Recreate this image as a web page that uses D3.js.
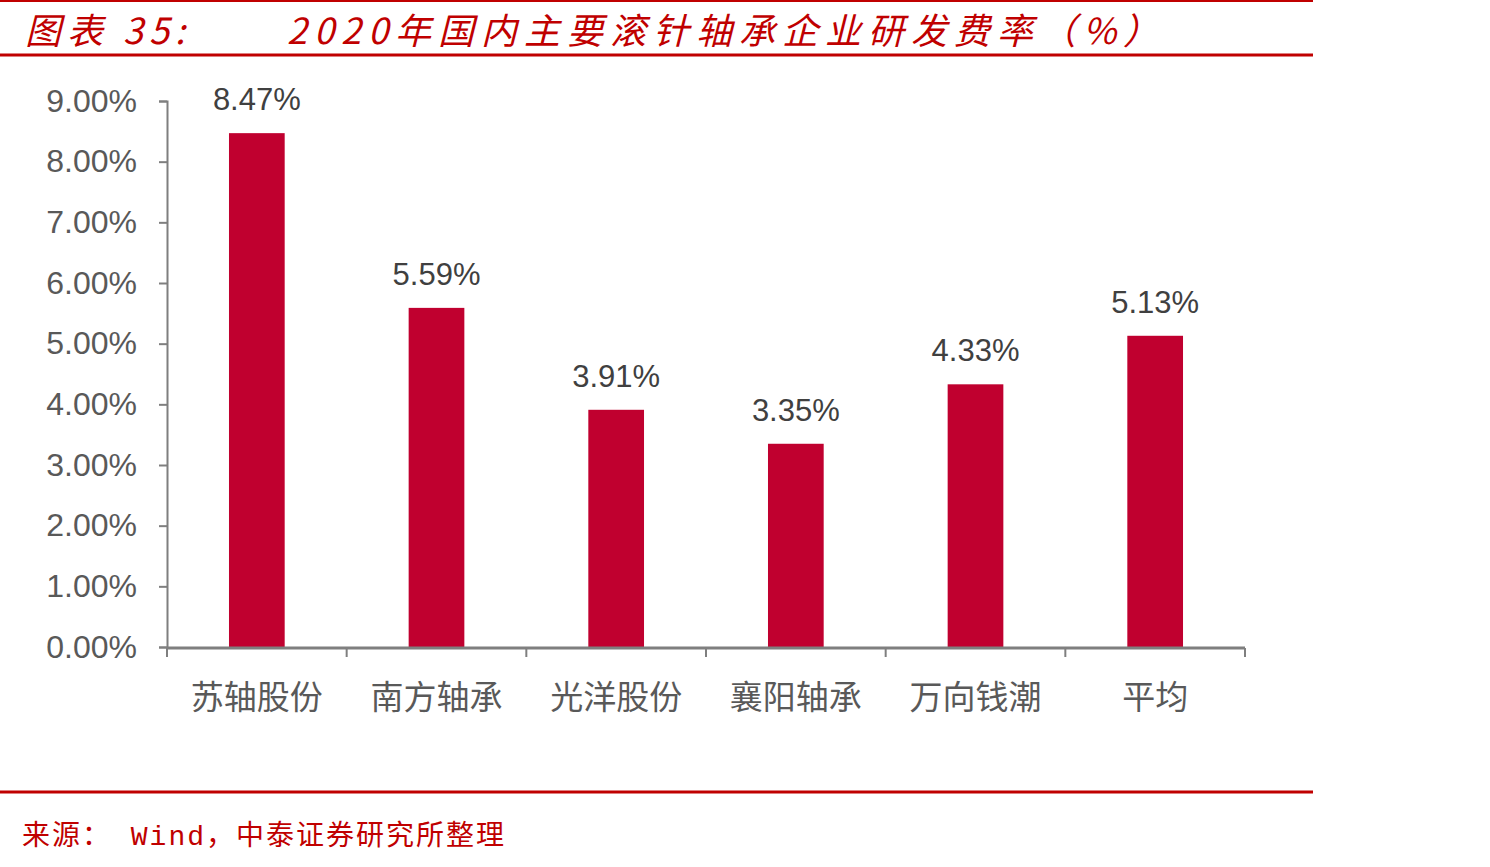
<!DOCTYPE html>
<html>
<head>
<meta charset="utf-8">
<script src="https://cdn.jsdelivr.net/npm/d3@7/dist/d3.min.js"></script>
<style>
  body { margin: 0; background: #fff; }
  svg { display: block; }
</style>
</head>
<body>
<svg width="1490" height="867"></svg>
<script>
var companies = ["苏轴股份", "南方轴承", "光洋股份", "襄阳轴承", "万向钱潮", "平均"];
var rdRates = [8.47, 5.59, 3.91, 3.35, 4.33, 5.13];
var yTicks = [0, 1, 2, 3, 4, 5, 6, 7, 8, 9];

var svg = d3.select("svg"),
    red = "#c00000",
    barColor = "#c0002f",
    axisColor = "#7f7f7f";

// header and footer lines
svg.append("line").attr("x1", 0).attr("x2", 1313).attr("y1", 1).attr("y2", 1)
    .attr("stroke", red).attr("stroke-width", 2);
svg.append("line").attr("x1", 0).attr("x2", 1313).attr("y1", 55).attr("y2", 55)
    .attr("stroke", red).attr("stroke-width", 3);
svg.append("line").attr("x1", 0).attr("x2", 1313).attr("y1", 792).attr("y2", 792)
    .attr("stroke", red).attr("stroke-width", 3);

svg.append("text")
    .attr("x", 25).attr("y", 44)
    .attr("fill", red)
    .style("font-family", "'Noto Sans CJK SC', sans-serif")
    .style("font-style", "italic")
    .style("font-size", "36px")
    .style("letter-spacing", "6px")
    .text("图表 35:");
svg.append("text")
    .attr("x", 287).attr("y", 44)
    .attr("fill", red)
    .style("font-family", "'Noto Sans CJK SC', sans-serif")
    .style("font-style", "italic")
    .style("font-size", "36px")
    .style("letter-spacing", "7px")
    .text("2020年国内主要滚针轴承企业研发费率（%）");

svg.append("text")
    .attr("x", 22).attr("y", 845)
    .attr("fill", red)
    .style("font-family", "'Liberation Mono', 'Noto Sans CJK SC', monospace")
    .style("font-size", "28px")
    .style("letter-spacing", "2px")
    .text("来源： Wind，中泰证券研究所整理");

var x = d3.scaleBand()
    .domain(companies)
    .range([167, 1245])
    .paddingInner(0.69)
    .paddingOuter(0.345);

var y = d3.scaleLinear()
    .domain([0, 9])
    .range([647, 101]);

// y axis
var yAxis = svg.append("g")
    .attr("transform", "translate(167,0)")
    .call(d3.axisLeft(y).tickValues(yTicks).tickSize(8).tickPadding(22)
        .tickFormat(function (d) { return d.toFixed(2) + "%"; }));
yAxis.select(".domain").attr("stroke", axisColor).attr("stroke-width", 2);
yAxis.selectAll(".tick line").attr("stroke", axisColor).attr("stroke-width", 2);
yAxis.selectAll(".tick text")
    .attr("fill", "#595959")
    .style("font-family", "'Liberation Sans', Arial, sans-serif")
    .style("font-size", "32px");

// bars
svg.selectAll(".bar")
    .data(rdRates)
    .enter()
    .append("rect")
    .attr("class", "bar")
    .attr("x", function (d, i) { return x(companies[i]); })
    .attr("width", x.bandwidth())
    .attr("y", function (d) { return y(d); })
    .attr("height", function (d) { return y(0) - y(d); })
    .attr("fill", barColor);

svg.selectAll(".value")
    .data(rdRates)
    .enter()
    .append("text")
    .attr("class", "value")
    .attr("x", function (d, i) { return x(companies[i]) + x.bandwidth() / 2; })
    .attr("y", function (d) { return y(d) - 23; })
    .attr("text-anchor", "middle")
    .attr("fill", "#404040")
    .style("font-family", "'Liberation Sans', Arial, sans-serif")
    .style("font-size", "31px")
    .text(function (d) { return d.toFixed(2) + "%"; });

// x axis with ticks at band edges
var step = x.step();
var xg = svg.append("g");
xg.append("line")
    .attr("x1", 167).attr("x2", 1245).attr("y1", 648).attr("y2", 648)
    .attr("stroke", axisColor).attr("stroke-width", 3);
xg.selectAll(".xtick")
    .data(d3.range(companies.length + 1))
    .enter()
    .append("line")
    .attr("x1", function (i) { return 167 + i * step; })
    .attr("x2", function (i) { return 167 + i * step; })
    .attr("y1", 648).attr("y2", 657)
    .attr("stroke", axisColor).attr("stroke-width", 2);
xg.selectAll(".cat")
    .data(companies)
    .enter()
    .append("text")
    .attr("x", function (d) { return x(d) + x.bandwidth() / 2; })
    .attr("y", 709)
    .attr("text-anchor", "middle")
    .attr("fill", "#595959")
    .style("font-family", "'Noto Sans CJK SC', sans-serif")
    .style("font-size", "33px")
    .text(function (d) { return d; });
</script>
</body>
</html>
